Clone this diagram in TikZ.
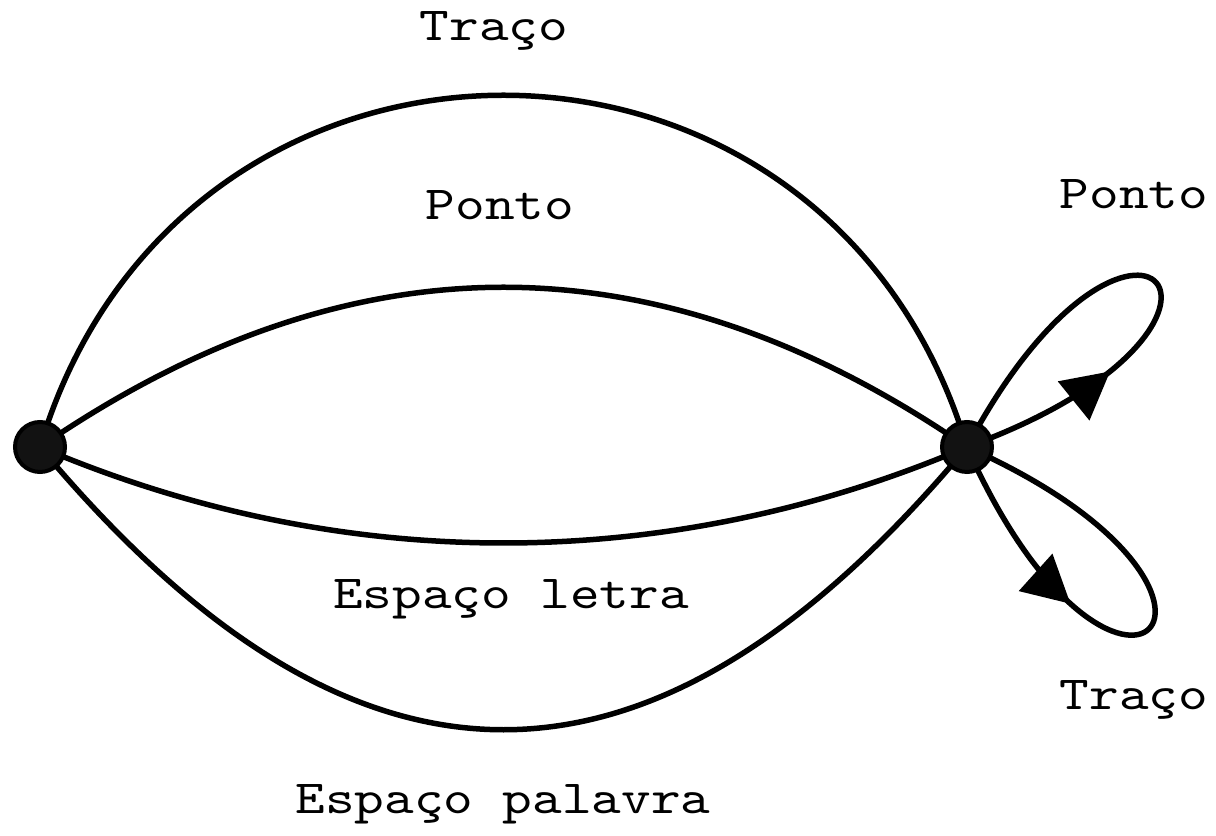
\documentclass[tikz,border=0pt]{standalone}
\usepackage{fontspec}
\newfontfamily\morsefont{lmmono10-regular}[Extension=.otf,FakeStretch=1.19]
\usetikzlibrary{arrows.meta,backgrounds,decorations.markings}

\begin{document}
\begin{tikzpicture}[x=0.02cm,y=0.02cm,
   state/.style={circle,draw=black,fill=black!93,line width=0.08cm,minimum size=1cm,inner sep=0pt},
   lbl/.style={font=\morsefont\fontsize{27}{32}\selectfont,anchor=base,inner sep=0pt},
   trans/.style={line width=0.11cm,black},
   midarrow/.style={postaction={decorate},decoration={markings,
      mark=at position #1 with {\arrow{Triangle[length=0.94cm,width=0.98cm]}}}}]
  \useasboundingbox (0,0) rectangle (1216,835);
  \node[state] (s0) at (40,388)  {};
  \node[state] (s1) at (967,388) {};
  \node[lbl] (traco)   at (494,794)  {Traço};
  \node[lbl] (ponto)   at (500,615)  {Ponto};
  \node[lbl] (letra)   at (511,226)  {Espaço letra};
  \node[lbl] (palavra) at (503,22)   {Espaço palavra};
  \node[lbl] (pontoL)  at (1134,626) {Ponto};
  \node[lbl] (tracoL)  at (1134,126) {Traço};
  \begin{scope}[on background layer]
    \draw[trans] (s0.center) .. controls (180,857) and (827,857) .. (s1.center);
    \draw[trans] (s0.center) .. controls (350,601) and (657,601) .. (s1.center);
    \draw[trans] (s0.center) .. controls (340,260) and (667,260) .. (s1.center);
    \draw[trans] (s0.center) .. controls (355,11) and (652,11) .. (s1.center);
    \draw[trans,midarrow=0.3] (s1.center) to[out=20,in=62,min distance=7.16cm] (s1.center);
    \draw[trans,midarrow=0.34] (s1.center) to[out=-66,in=-24,min distance=7.35cm] (s1.center);
  \end{scope}
\end{tikzpicture}
\end{document}
